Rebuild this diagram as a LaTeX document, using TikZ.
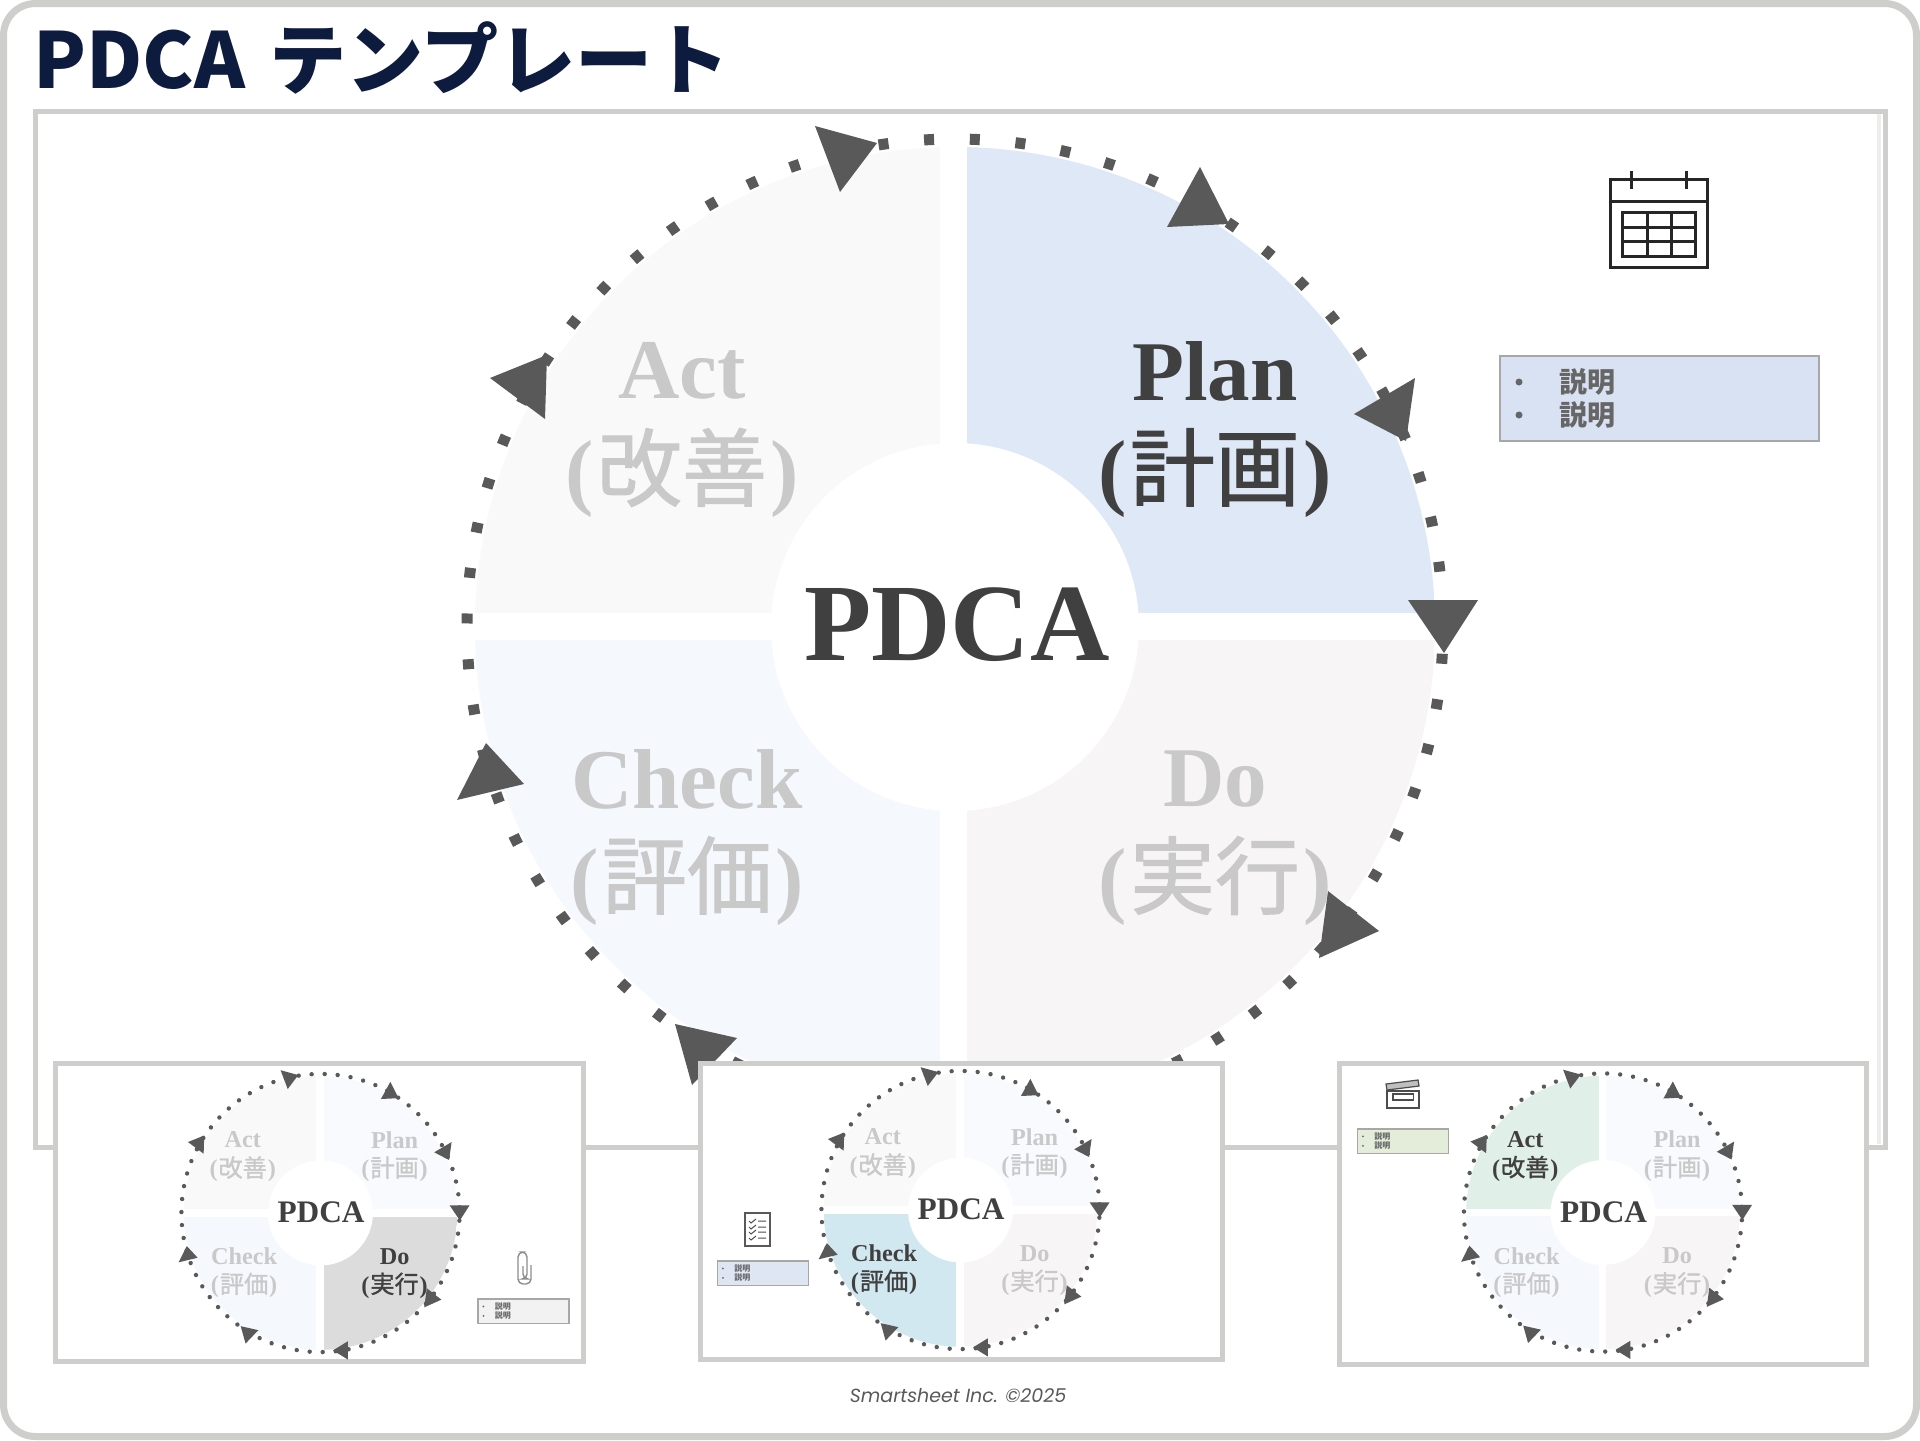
\documentclass[tikz,border=0pt]{standalone}
\usepackage{fontspec}
\setmainfont{Liberation Serif}
\newfontfamily\jpfont{Noto Sans CJK JP}
\newfontfamily\jpwheel[FakeBold=1.2]{Noto Sans CJK JP}
\newfontfamily\footfont{Poppins}
\definecolor{PdcaFrame}{RGB}{206,206,204}
\definecolor{PdcaNavy}{RGB}{13,27,62}
\definecolor{PdcaInk}{RGB}{64,64,64}
\definecolor{PdcaFade}{RGB}{201,201,201}
\definecolor{PdcaTip}{RGB}{89,89,89}
\definecolor{PdcaPale1}{RGB}{249,250,254}
\definecolor{PdcaPale2}{RGB}{247,245,245}
\definecolor{PdcaPale3}{RGB}{245,249,254}
\definecolor{PdcaPale4}{RGB}{249,249,250}
\definecolor{PdcaHot1}{RGB}{223,232,246}
\definecolor{PdcaHot2}{RGB}{220,220,220}
\definecolor{PdcaHot3}{RGB}{210,232,240}
\definecolor{PdcaHot4}{RGB}{224,239,232}
\definecolor{PdcaNotePlan}{RGB}{217,226,243}
\definecolor{PdcaNoteDo}{RGB}{242,242,242}
\definecolor{PdcaNoteCheck}{RGB}{222,230,244}
\definecolor{PdcaNoteAct}{RGB}{227,237,218}
\newcommand\pdcawheel[6]{%
\begin{scope}[shift={(#2,#3)},scale=#4,transform shape]
\foreach \qn/\q/\xa/\ya/\xb/\yb/\lx/\ly/\wordA/\wordB in %
{1/plan/12/-480/480/-14/260/-256/Plan/計画,2/do/12/13/480/480/260/152/Do/実行,3/check/-480/13/-15/480/-268/152/Check/評価,4/act/-480/-480/-15/-14/-273/-256/Act/改善} {
   \ifnum\qn=#6 \def\wedgecol{PdcaHot\qn}\def\wordcol{PdcaInk}\else \def\wedgecol{PdcaPale\qn}\def\wordcol{PdcaFade}\fi
   \begin{scope}
   \clip (0,0) circle (480);
   \fill[\wedgecol] (\xa,\ya) rectangle (\xb,\yb);
   \end{scope}
   \node[wheelword,text=\wordcol](#1-\q-en) at(\lx,\ly) {\wordA};
   \node[wheelword,text=\wordcol](#1-\q-jp) at(\lx,\ly+102) {(\hspace{1.5pt}{\jpwheel\mdseries\wordB}\hspace{1.5pt})};
}
\fill[white] (0,0) circle (184);
\node[wheelcore](#1-core) at(2,-2) {PDCA};
\draw[#5] (0,0) circle (488);
\foreach \ax/\ay/\bx/\by/\cx/\cy in %
{-78/-484/-140/-501/-115/-435,245/-460/212/-400/274/-403,399/-213/460/-249/451/-186,453/-27/523/-27/489/26,373/264/424/304/364/331,44/482/96/450/96/514,-280/397/-218/411/-263/458,-498/173/-431/157/-469/116,-465/-249/-408/-272/-410/-208} {
   \fill[PdcaTip] (\ax,\ay) -- (\bx,\by) -- (\cx,\cy) -- cycle;
}
\end{scope}}
\newcommand\pdcanote[5]{%
\begin{scope}[shift={(#2,#3)},scale=#4,transform shape]
\draw[fill=#5,draw=PdcaFrame!50!gray,line width=0.6pt] (0,0) rectangle (319,85);
\foreach \n/\y in {1/26,2/59} {
   \fill[black!60] (19,\y) circle (3.5);
   \node[noteword](#1-\n) at(59,\y) {説明};
}
\end{scope}}
\begin{document}
\begin{tikzpicture}[x=0.5pt,y=-0.5pt,
  wheelword/.style={font=\fontsize{42.5}{42.5}\selectfont\bfseries,inner sep=0},
  wheelcore/.style={font=\fontsize{55}{55}\selectfont\bfseries,text=PdcaInk,inner sep=0},
  ringmain/.style={draw=PdcaTip,line width=5.5pt,dash pattern=on 5pt off 17.88pt,dash phase=9.5pt},
  ringthumb/.style={draw=PdcaTip,line width=2.2pt,line cap=round,dash pattern=on 0.01pt off 6.51pt,dash phase=2.7pt},
  noteword/.style={font=\jpfont\bfseries\fontsize{14}{14}\selectfont,text=black!60,anchor=west,inner sep=0},
  framebox/.style={draw=PdcaFrame,fill=white,line width=2.5pt},
  iconline/.style={draw=black!85,line width=1.5pt}]
\useasboundingbox (0,0) rectangle (1920,1440);
\draw[draw=PdcaFrame,fill=white,line width=3.5pt,rounded corners=16pt] (3.5,3.5) rectangle (1916.5,1436.5);
\node[font=\jpfont\bfseries\fontsize{38.6}{38.6}\selectfont,text=PdcaNavy,anchor=west,inner sep=0](title) at(33,58) {PDCA\hspace{12pt}テンプレート};
\draw[framebox] (35,111) rectangle (1885,1147);
\draw[draw=black!7,line width=2pt] (1879,114) -- (1879,1144);
\pdcawheel{main}{955}{627}{1}{ringmain}{1}
\pdcanote{mainnote}{1500}{356}{1}{PdcaNotePlan}
\draw[iconline] (1610,179) rectangle (1707,267) (1610,201) -- (1707,201);
\draw[iconline] (1631,171) -- (1631,189) (1686,171) -- (1686,189);
\draw[iconline] (1622,212) rectangle (1695,256) (1647,212) -- (1647,256) (1671,212) -- (1671,256) (1622,227) -- (1695,227) (1622,241) -- (1695,241);
\draw[framebox] (55,1063) rectangle (583,1361);
\pdcawheel{doview}{320.5}{1213}{0.285}{ringthumb}{2}
\pdcanote{donote}{478}{1299}{0.285}{PdcaNoteDo}
\draw[draw=black!45,line width=0.7pt,rounded corners=2.5pt] (523,1266) -- (523,1279) -- (527,1279) -- (527,1252) -- (518,1252) -- (518,1284) -- (531,1284) -- (531,1265);
\draw[framebox] (700,1063) rectangle (1222,1359);
\pdcawheel{checkview}{960.5}{1210}{0.285}{ringthumb}{3}
\pdcanote{checknote}{717.5}{1261}{0.285}{PdcaNoteCheck}
\draw[draw=black!65,line width=0.6pt,fill=white] (745,1213) rectangle (770,1246);
\foreach \y in {1221,1227,1232,1238} {
   \draw[draw=black!70,line width=0.5pt] (749,\y) -- (751,\y+2) -- (756,\y-2) (758,\y) -- (766,\y);
}
\draw[framebox] (1339,1063) rectangle (1866,1364);
\pdcawheel{actview}{1603}{1212.5}{0.285}{ringthumb}{4}
\pdcanote{actnote}{1357.5}{1129}{0.285}{PdcaNoteAct}
\draw[draw=black!70,line width=0.6pt] (1387,1091) rectangle (1419,1108) (1393,1094) rectangle (1413.5,1100);
\draw[draw=black!70,line width=0.6pt,fill=black!25] (1386,1084) -- (1418,1080) -- (1419,1086) -- (1387,1090) -- cycle;
\node[font=\footfont\itshape\fontsize{9.5}{9.5}\selectfont,text=black!65,inner sep=0](footer) at(958,1396) {Smartsheet Inc. ©2025};
\end{tikzpicture}
\end{document}
